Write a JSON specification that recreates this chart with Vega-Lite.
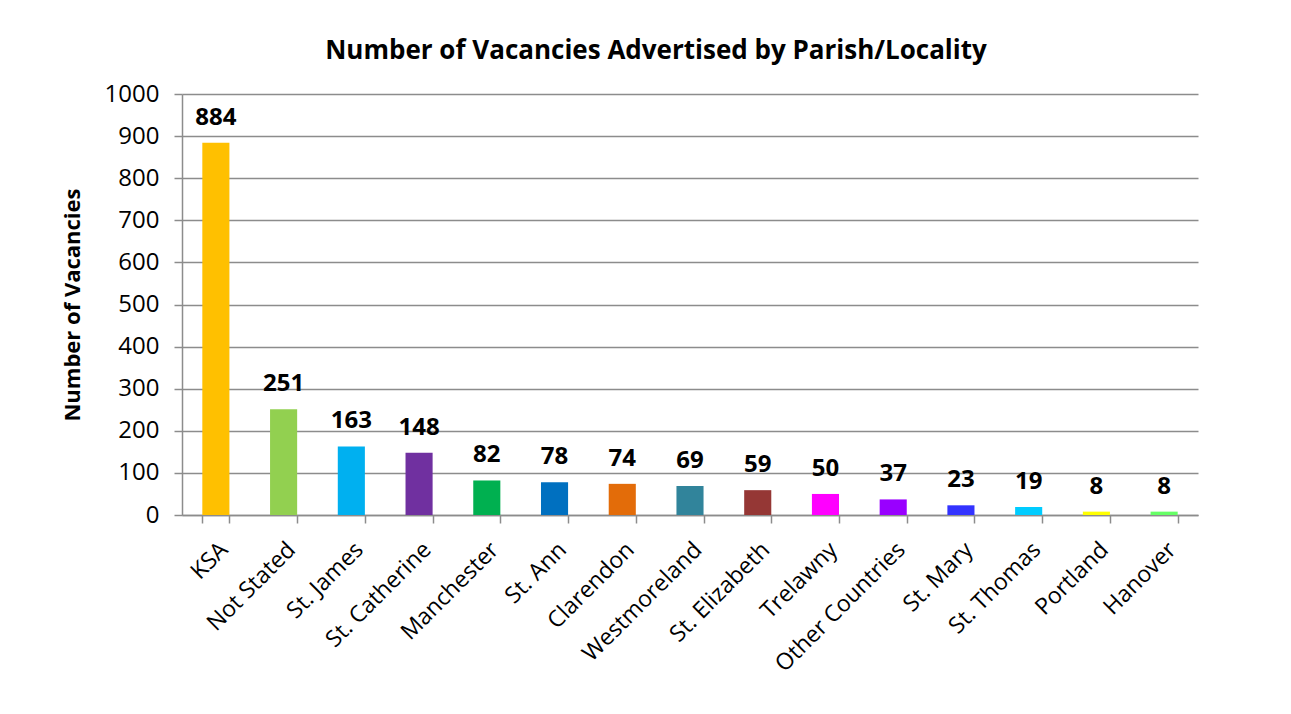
{
  "$schema": "https://vega.github.io/schema/vega-lite/v6.json",
  "width": 1016,
  "height": 421,
  "autosize": {"type": "none"},
  "padding": {"left": 182, "top": 94, "right": 93, "bottom": 199},
  "background": "white",
  "title": {
    "text": "Number of Vacancies Advertised by Parish/Locality",
    "font": "Open Sans",
    "fontSize": 26,
    "fontWeight": "bold",
    "color": "#000000",
    "anchor": "middle",
    "dx": -34,
    "offset": 18
  },
  "data": {
    "values": [
      {"parish": "KSA", "vacancies": 884},
      {"parish": "Not Stated", "vacancies": 251},
      {"parish": "St. James", "vacancies": 163},
      {"parish": "St. Catherine", "vacancies": 148},
      {"parish": "Manchester", "vacancies": 82},
      {"parish": "St. Ann", "vacancies": 78},
      {"parish": "Clarendon", "vacancies": 74},
      {"parish": "Westmoreland", "vacancies": 69},
      {"parish": "St. Elizabeth", "vacancies": 59},
      {"parish": "Trelawny", "vacancies": 50},
      {"parish": "Other Countries", "vacancies": 37},
      {"parish": "St. Mary", "vacancies": 23},
      {"parish": "St. Thomas", "vacancies": 19},
      {"parish": "Portland", "vacancies": 8},
      {"parish": "Hanover", "vacancies": 8}
    ]
  },
  "encoding": {
    "x": {
      "field": "parish",
      "type": "nominal",
      "sort": null,
      "scale": {"paddingInner": 0.6, "paddingOuter": 0.3},
      "axis": {
        "title": null,
        "labelAngle": -45,
        "labelAlign": "right",
        "labelBaseline": "top",
        "labelFont": "Open Sans",
        "labelFontSize": 23,
        "labelColor": "#000000",
        "labelPadding": 15,
        "tickBand": "extent",
        "tickSize": 8,
        "tickColor": "#8c8c8c",
        "tickWidth": 1.5,
        "domainColor": "#8c8c8c",
        "domainWidth": 1.5,
        "labelOverlap": false
      }
    },
    "y": {
      "field": "vacancies",
      "type": "quantitative",
      "scale": {"domain": [0, 1000], "nice": false},
      "axis": {
        "title": "Number of Vacancies",
        "titleFont": "Open Sans",
        "titleFontSize": 22,
        "titleFontWeight": "bold",
        "titleColor": "#000000",
        "titlePadding": 20,
        "format": "d",
        "values": [0, 100, 200, 300, 400, 500, 600, 700, 800, 900, 1000],
        "labelFont": "Open Sans",
        "labelFontSize": 24,
        "labelColor": "#000000",
        "labelPadding": 15,
        "tickSize": 8,
        "tickColor": "#8c8c8c",
        "tickWidth": 1.5,
        "domainColor": "#8c8c8c",
        "domainWidth": 1.5,
        "grid": true,
        "gridColor": "#8c8c8c",
        "gridWidth": 1.5
      }
    }
  },
  "layer": [
    {
      "mark": {"type": "bar"},
      "encoding": {
        "color": {
          "field": "parish",
          "type": "nominal",
          "legend": null,
          "scale": {
            "domain": ["KSA", "Not Stated", "St. James", "St. Catherine", "Manchester", "St. Ann", "Clarendon", "Westmoreland", "St. Elizabeth", "Trelawny", "Other Countries", "St. Mary", "St. Thomas", "Portland", "Hanover"],
            "range": ["#FFC000", "#92D050", "#00B0F0", "#7030A0", "#00B050", "#0070C0", "#E36C09", "#31849B", "#953735", "#FF00FF", "#9900FF", "#3333FF", "#00CCFF", "#FFFF00", "#66FF66"]
          }
        }
      }
    },
    {
      "mark": {
        "type": "text",
        "font": "Open Sans",
        "fontSize": 24,
        "fontWeight": "bold",
        "color": "#000000",
        "baseline": "alphabetic",
        "dy": -18
      },
      "encoding": {
        "text": {"field": "vacancies", "type": "quantitative"}
      }
    }
  ],
  "config": {"view": {"stroke": null}}
}
